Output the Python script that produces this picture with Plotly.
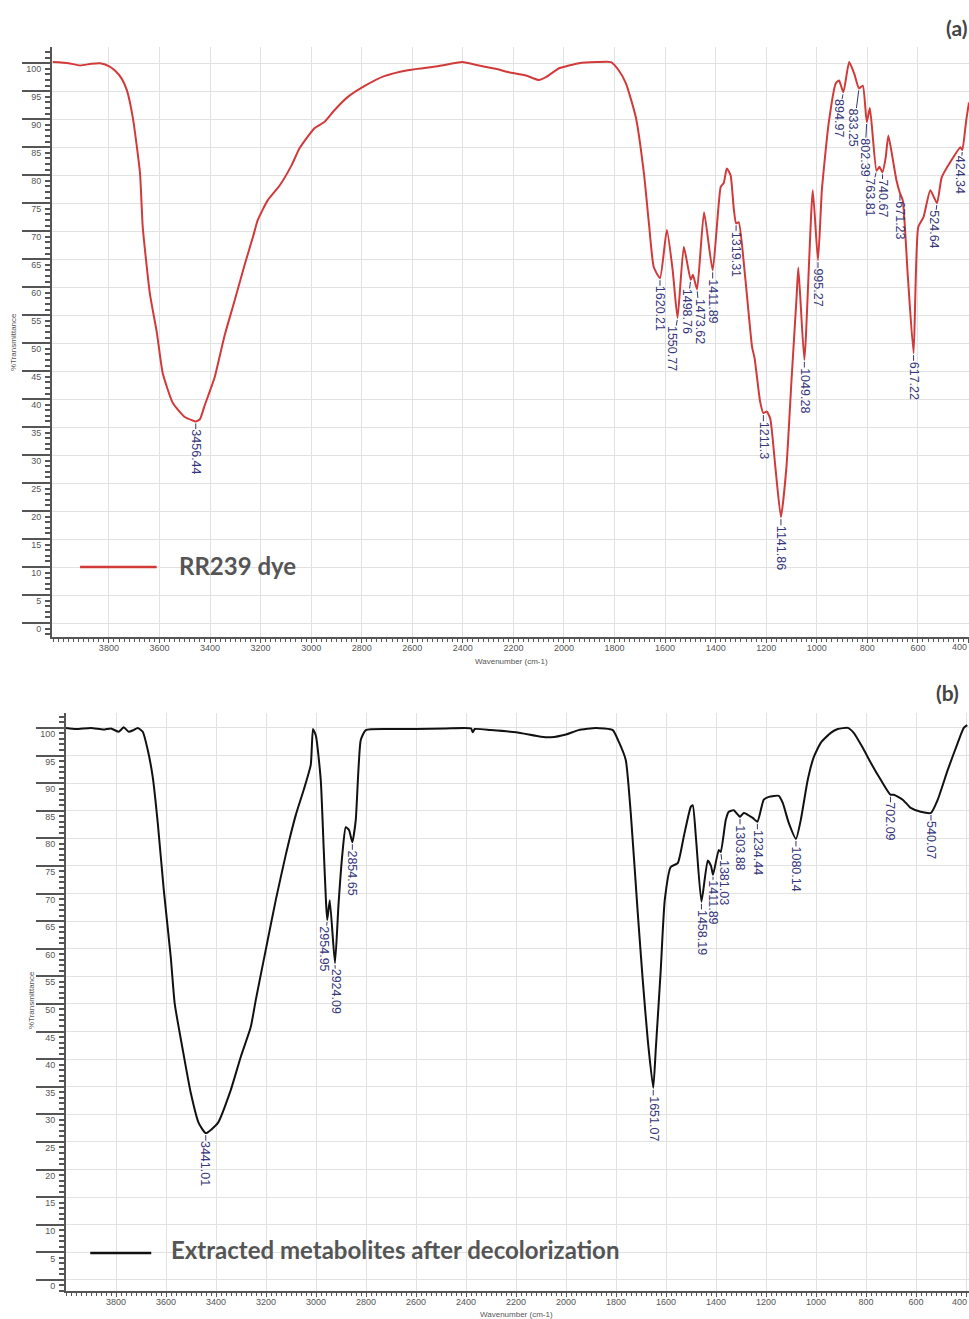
import plotly.graph_objects as go

# ---------------- data ----------------
# (a) RR239 dye: wavenumber (cm-1) and %Transmittance
wn_a = [4022, 3960, 3914, 3870, 3835, 3800, 3776, 3750, 3729, 3705, 3677, 3666, 3638,
        3610, 3587, 3547, 3500, 3470, 3456.44, 3440, 3421, 3400, 3381, 3342, 3302, 3263,
        3230, 3211, 3172, 3124, 3077, 3046, 2987, 2948, 2908, 2857, 2790, 2711, 2612,
        2494, 2403, 2336, 2270, 2218, 2150, 2099, 2068, 2019, 1940, 1870, 1814, 1783,
        1755, 1716, 1684, 1664, 1645, 1620.21, 1593, 1570, 1550.77, 1526, 1498.76, 1490,
        1473.62, 1446, 1411.89, 1380, 1368, 1356, 1341, 1329, 1319.31, 1309, 1282, 1256,
        1246, 1224, 1211.3, 1198, 1184, 1164, 1141.86, 1120, 1100, 1080, 1073, 1049.28,
        1016, 995.27, 980, 953, 925, 912, 894.97, 872, 851, 833.25, 818, 802.39, 790,
        763.81, 752, 740.67, 728, 717, 700, 685, 671.23, 660, 640, 617.22, 599, 578, 551,
        524.64, 506, 467, 432, 424.34, 409, 398]
t_a = [100.2, 100.0, 99.6, 99.9, 100.0, 99.5, 98.7, 97.3, 95.2, 90.2, 80.4, 70.7, 58.9,
       51.8, 44.6, 39.3, 36.8, 36.2, 36.0, 36.4, 38.9, 41.5, 44.0, 51.4, 57.7, 64.0,
       69.0, 72.0, 75.5, 78.2, 81.8, 84.8, 88.4, 89.5, 91.6, 93.9, 95.9, 97.7, 98.8,
       99.5, 100.2, 99.6, 99.0, 98.4, 97.8, 97.0, 97.6, 99.1, 100.0, 100.2, 100.2, 98.7,
       96.4, 90.4, 80.4, 71.4, 63.6, 61.6, 70.2, 63.0, 54.5, 67.2, 61.3, 62.2,
       59.6, 73.4, 63.0, 77.9, 78.6, 81.2, 80.0, 74.3, 71.4, 71.6, 61.2, 49.3,
       47.3, 39.5, 37.5, 37.8, 36.5, 27.9, 18.9, 27.9, 43.4, 58.2, 63.5, 47.0,
       77.3, 64.8, 77.3, 89.3, 96.4, 96.9, 94.8, 100.2, 98.0, 95.5, 96.0, 89.5, 92.0,
       80.8, 81.5, 80.5, 83.0, 87.1, 83.0, 79.1, 76.8, 75.5, 62.0, 48.2, 70.7, 72.5, 77.3,
       75.0, 79.6, 82.7, 85.0, 84.5, 89.8, 93.0]

# (b) extracted metabolites after decolorization
wn_b = [4000, 3960, 3900, 3850, 3820, 3789, 3769, 3749, 3730, 3713, 3693, 3673, 3653,
        3633, 3609, 3581, 3565, 3533, 3501, 3469, 3441.01, 3393, 3341, 3301, 3261, 3241,
        3201, 3161, 3121, 3081, 3049, 3021, 3012, 3000, 2981, 2969, 2960, 2954.95, 2945,
        2924.09, 2910, 2894, 2881, 2868, 2854.65, 2841, 2821, 2801, 2700, 2600, 2480,
        2380, 2373, 2365, 2300, 2200, 2100, 2060, 2000, 1950, 1880, 1813, 1789, 1761,
        1741, 1713, 1693, 1673, 1651.07, 1641, 1621, 1605, 1581, 1553, 1529, 1501, 1493,
        1480, 1458.19, 1433, 1420, 1411.89, 1389, 1381.03, 1361, 1349, 1329, 1303.88,
        1289, 1253, 1234.44, 1209, 1189, 1149, 1133, 1109, 1080.14, 1061, 1033, 1009,
        981, 941, 913, 873, 849, 813, 781, 741, 702.09, 689, 653, 621, 581, 540.07, 513,
        473, 433, 409, 395]
t_b = [100.0, 99.8, 100.0, 99.7, 99.9, 99.3, 100.1, 99.3, 99.6, 100.0, 99.3, 96.0, 91.1,
       82.8, 70.7, 58.5, 50.0, 41.7, 33.9, 28.4, 26.6, 28.4, 34.4, 40.4, 45.8, 50.7,
       59.8, 68.8, 77.0, 84.2, 88.8, 93.3, 99.8, 98.5, 90.6, 77.9, 68.5, 65.2, 68.8,
       57.4, 68.0, 77.4, 82.0, 81.5, 79.3, 83.3, 97.8, 99.6, 99.8, 99.8, 99.9,
       99.9, 99.2, 99.8, 99.6, 99.2, 98.4, 98.3, 98.8, 99.6, 100.0, 99.6, 97.5, 94.2,
       84.6, 66.5, 54.3, 43.5, 34.8, 41.7, 56.2, 68.8, 74.8, 75.5, 80.3, 85.7, 86.0,
       80.0, 68.5, 76.0, 75.0, 73.4, 77.9, 77.5, 83.3, 84.8, 85.1, 83.9,
       84.6, 83.7, 83.0, 87.0, 87.5, 87.7, 86.4, 82.8, 79.9, 83.3, 90.6, 94.7,
       97.3, 99.1, 99.8, 100.0, 99.1, 96.4, 93.7, 90.6, 87.9, 87.9, 87.0, 85.5, 84.8, 84.6, 87.0,
       92.4, 97.3, 100.0, 100.5]

# labelled bands (label text is the band position)
peaks_a = ["3456.44", "1620.21", "1550.77", "1498.76", "1473.62", "1411.89", "1319.31",
           "1211.3", "1141.86", "1049.28", "995.27", "894.97", "833.25", "802.39",
           "763.81", "740.67", "671.23", "617.22", "524.64", "424.34"]
peaks_b = ["3441.01", "2954.95", "2924.09", "2854.65", "1651.07", "1458.19", "1411.89",
           "1381.03", "1303.88", "1234.44", "1080.14", "702.09", "540.07"]

x_ticks = list(range(3800, 401, -200))
edge_tick = "400"
y_ticks = list(range(0, 101, 5))

# leader geometry (px): horizontal shift of the label, leader length
shift_a = {"1550.77": (-5, 8), "1498.76": (-4, 9), "1473.62": (3, 9), "894.97": (-5, 7),
           "833.25": (-5, 20), "802.39": (-2, 16), "763.81": (-6, 7), "740.67": (1, 7),
           "524.64": (-3, 7), "424.34": (-2, 6)}
shift_b = {"2954.95": (-3, 6), "2924.09": (1, 6), "1381.03": (4, 8), "1411.89": (0, 5)}

RED = "#d23a3a"
NAVY = "#34357a"
GREY = "#555555"
LABEL_SIZE = 12.5


def text_len(s, size):
    # advance widths of Liberation Sans glyphs used in the band labels
    return sum((0.278 if c == "." else 0.556) * size for c in s)


def value_at(wn_list, t_list, label):
    w = float(label)
    i = min(range(len(wn_list)), key=lambda k: abs(wn_list[k] - w))
    return w, t_list[i]


fig = go.Figure()
fig.add_trace(go.Scatter(x=wn_a, y=t_a, mode="lines",
                         line=dict(color=RED, width=2, shape="spline", smoothing=0.5),
                         xaxis="x", yaxis="y", showlegend=False, hoverinfo="skip"))
fig.add_trace(go.Scatter(x=wn_b, y=t_b, mode="lines",
                         line=dict(color="#111111", width=2, shape="spline", smoothing=0.5),
                         xaxis="x2", yaxis="y2", showlegend=False, hoverinfo="skip"))

W, H = 969, 1319


def xaxis_style(dom_left_px, rng):
    return dict(domain=[dom_left_px / W, 1.0], range=rng, tickmode="array",
                tickvals=x_ticks + [int(edge_tick)],
                ticktext=[str(v) for v in x_ticks] + [""],
                showgrid=True, gridcolor="#e2e2e2", gridwidth=1, zeroline=False,
                ticks="outside", ticklen=4, tickwidth=1, tickcolor=GREY,
                ticklabelstandoff=-3,
                showline=True, linecolor=GREY, linewidth=2,
                tickfont=dict(family="Liberation Sans", size=9, color=GREY),
                minor=dict(tickmode="linear", tick0=0, dtick=20, ticks="outside",
                           ticklen=3, tickcolor=GREY, showgrid=False))


def yaxis_style(top_px, bottom_px, rng):
    return dict(domain=[1 - bottom_px / H, 1 - top_px / H], range=rng, tickmode="array",
                tickvals=y_ticks, ticktext=[str(v) for v in y_ticks],
                showgrid=True, gridcolor="#e2e2e2", gridwidth=1, zeroline=False,
                ticks="outside", ticklen=28, tickwidth=1.5, tickcolor=GREY,
                ticklabelstandoff=-21, ticklabelshift=6,
                showline=True, linecolor=GREY, linewidth=2,
                tickfont=dict(family="Liberation Sans", size=9, color=GREY),
                minor=dict(tickmode="linear", tick0=0, dtick=1, ticks="outside",
                           ticklen=5, tickcolor=GREY, showgrid=False))


fig.update_layout(
    width=W, height=H, margin=dict(l=0, r=0, t=0, b=0),
    paper_bgcolor="white", plot_bgcolor="white", showlegend=False,
    xaxis=dict(**xaxis_style(52, [4025, 398]), anchor="y"),
    yaxis=dict(**yaxis_style(47, 637, [-2.5, 102.9]), anchor="x"),
    xaxis2=dict(**xaxis_style(66, [4000, 388]), anchor="y2"),
    yaxis2=dict(**yaxis_style(713, 1291, [-2.0, 102.7]), anchor="x2"),
)

ann = []


def add_peak_labels(labels, wn_list, t_list, xref, yref, shifts):
    for lab in labels:
        w, t = value_at(wn_list, t_list, lab)
        dx, lead = shifts.get(lab, (0, 8))
        # with an arrow, the label box is centred on the arrow tail
        dy = lead + text_len(lab, LABEL_SIZE) / 2
        ann.append(dict(x=w, y=t, xref=xref, yref=yref, text=lab, textangle=90,
                        showarrow=True, arrowhead=0, arrowwidth=1, arrowcolor=NAVY,
                        ax=dx, ay=dy, standoff=2, borderpad=0,
                        font=dict(family="Liberation Sans", size=LABEL_SIZE, color=NAVY)))


add_peak_labels(peaks_a, wn_a, t_a, "x", "y", shift_a)
add_peak_labels(peaks_b, wn_b, t_b, "x2", "y2", shift_b)

# last wavenumber tick label, kept inside the page edge
for yc in (647, 1302):
    ann.append(dict(x=1.0, y=1 - yc / H, xref="paper", yref="paper", text=edge_tick,
                    showarrow=False, xanchor="right", yanchor="middle",
                    font=dict(family="Liberation Sans", size=9, color=GREY)))

# axis titles
for xc, yc, ang, txt in [(13, 342, -90, "%Transmittance"), (31, 1000, -90, "%Transmittance"),
                         (512, 661, 0, "Wavenumber (cm-1)"), (516, 1314, 0, "Wavenumber (cm-1)")]:
    ann.append(dict(x=xc / W, y=1 - yc / H, xref="paper", yref="paper", text=txt,
                    textangle=ang, showarrow=False, xanchor="center", yanchor="middle",
                    font=dict(family="Liberation Sans", size=8, color=GREY)))

# legends
shapes = [
    dict(type="line", xref="x", yref="y", x0=3914, x1=3611, y0=10, y1=10,
         line=dict(color=RED, width=2.5)),
    dict(type="line", xref="x2", yref="y2", x0=3903, x1=3659, y0=4.9, y1=4.9,
         line=dict(color="#111111", width=2.5)),
]
ann.append(dict(x=3532, y=10.3, xref="x", yref="y", text="<b>RR239 dye</b>", showarrow=False,
                xanchor="left", yanchor="middle",
                font=dict(family="Lato", size=24, color="#555555")))
ann.append(dict(x=3587, y=5.5, xref="x2", yref="y2",
                text="<b>Extracted metabolites after decolorization</b>", showarrow=False,
                xanchor="left", yanchor="middle",
                font=dict(family="Lato", size=24, color="#555555")))

# panel letters
ann.append(dict(x=1.0, y=1 - 28 / H, xref="paper", yref="paper", text="<b>(a)</b>",
                showarrow=False, xanchor="right", yanchor="middle",
                font=dict(family="Lato", size=21, color="#444444")))
ann.append(dict(x=961 / W, y=1 - 692 / H, xref="paper", yref="paper", text="<b>(b)</b>",
                showarrow=False, xanchor="right", yanchor="middle",
                font=dict(family="Lato", size=21, color="#444444")))

fig.update_layout(annotations=ann, shapes=shapes)
fig.write_html("out.html")
